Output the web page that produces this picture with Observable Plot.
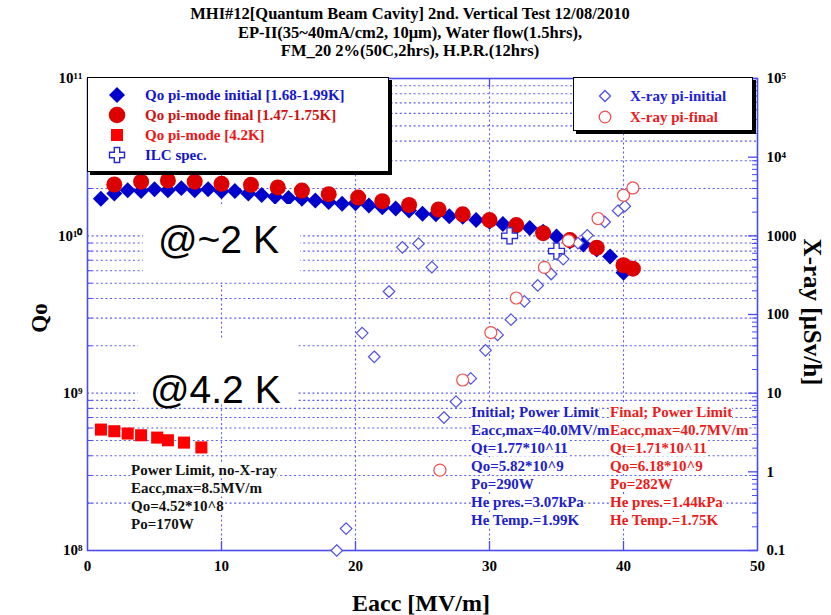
<!DOCTYPE html>
<html><head><meta charset="utf-8">
<script src="https://cdn.jsdelivr.net/npm/d3@7"></script>
<script src="https://cdn.jsdelivr.net/npm/@observablehq/plot@0.6"></script>
<style>
body{margin:0;background:#fff}
#wrap{position:relative;width:831px;height:615px;font-family:"Liberation Serif","Times New Roman",serif;font-weight:bold}
.ov{position:absolute;white-space:nowrap}
.leg{position:absolute;background:#fff;border:1.5px solid #000;box-shadow:3px 3px 0 #000;box-sizing:border-box}
.row{position:absolute;font-size:15px;line-height:18px;height:18px}
.row svg{position:absolute;left:0;top:0;overflow:visible}
.big{position:absolute;font-family:"Liberation Sans",Arial,sans-serif;font-weight:normal;font-size:39px;line-height:39px;background:#fff;color:#000}
.blk{position:absolute;font-size:15px;line-height:18px;white-space:nowrap}
.blk span{background:#fff}
</style></head><body><div id="wrap"></div>
<script>
// ---- data ----
const eaccInitial = [1,2,3,4,5,6,7,8,9,10,11,12,13,14,15,16,17,18,19,20,21,22,23,24,25,26,27,28,29,30,31,32,33,34,35,36,37,38,39,40];
const qoInitial = [1.72e10,1.86e10,1.95e10,1.93e10,1.98e10,1.95e10,2.01e10,1.95e10,1.98e10,1.92e10,1.93e10,1.86e10,1.82e10,1.77e10,1.74e10,1.72e10,1.68e10,1.64e10,1.60e10,1.61e10,1.56e10,1.52e10,1.49e10,1.45e10,1.38e10,1.37e10,1.33e10,1.32e10,1.26e10,1.23e10,1.19e10,1.14e10,1.12e10,1.06e10,9.9e9,9.2e9,8.8e9,8.2e9,7.4e9,5.82e9];
const eaccFinal = [2,4,6,8,10,12.2,14.2,16,18,20.2,22,24,26.2,28,30,32,34,36,38,40,40.7];
const qoFinal = [2.12e10,2.21e10,2.25e10,2.21e10,2.14e10,2.11e10,2.03e10,1.94e10,1.84e10,1.75e10,1.66e10,1.57e10,1.47e10,1.37e10,1.26e10,1.17e10,1.04e10,9.4e9,8.4e9,6.5e9,6.18e9];
const eacc42K = [1,2,3,4,5.2,6,7.2,8.5];
const qo42K = [5.87e8,5.73e8,5.54e8,5.4e8,5.22e8,5.02e8,4.85e8,4.52e8];
const eaccILC = [31.5,35];
const qoILC = [1.0e10,8.0e9];
const eaccXrayInitial = [18.6,19.3,20.5,21.4,22.5,23.5,24.7,25.7,26.6,27.5,28.6,29.7,30.6,31.6,32.6,33.6,34.6,35.5,36.6,37.3,38.6,39.6,40.1];
const xrayInitial = [0.1,0.19,58,29,196,714,794,400,4.9,7.8,15.4,35,55,86,147,234,327,506,810,1014,1500,2090,2380];
const eaccXrayFinal = [26.3,28.0,30.1,32.0,34.1,35.9,38.1,40.0,40.7];
const xrayFinal = [1.05,14.7,59,162,398,868,1660,3280,4060];

const xTicks = [0,10,20,30,40,50];
const xGrid = [10,20,30,40];
const leftTicks = [1e8,1e9,1e10,1e11];
const leftTickLabels = ["10\u2078","10\u2079","10\u00b9\u2070","10\u00b9\u00b9"];
const rightTicks = [0.1,1,10,100,1000,1e4,1e5];
const rightTickLabels = ["0.1","1","10","100","1000","10\u2074","10\u2075"];

// map X-ray [uSv/h] (0.1..1e5) onto Qo log scale (1e8..1e11)
const xq = v => Math.pow(10, 8 + (Math.log10(v) + 1) / 2);
const near = (a, b) => Math.abs(Math.log10(a) - Math.log10(b)) < 1e-6;
const leftFmt = d => leftTickLabels[leftTicks.findIndex(t => near(t, d))];
const rightFmt = d => rightTickLabels[rightTicks.findIndex(t => near(xq(t), d))];

const minorMult = [2,3,4,5,6,7,8,9];
const leftMinor = [], gridQ = [];
for (const d of [1e8,1e9,1e10]) { for (const m of minorMult) { leftMinor.push(d*m); gridQ.push(d*m); } }
gridQ.push(1e9, 1e10);
const rightMinor = [];
for (const d of [0.1,1,10,100,1000,1e4]) for (const m of minorMult) rightMinor.push(xq(d*m));

const W = 831, H = 615, mL = 87, mR = 74, mT = 78, mB = 65;
const fw = W - mL - mR, fh = H - mT - mB;
const axisColor = "#4b4bf5", gridColor = "#5c5cf0";

const zip = (xs, ys) => xs.map((x,i) => ({x, y: ys[i]}));

const chart = Plot.plot({
  width: W, height: H,
  marginLeft: mL, marginRight: mR, marginTop: mT, marginBottom: mB,
  style: {fontFamily: "'Liberation Serif','Times New Roman',serif", fontWeight: "bold", fontSize: "15px", color: "#000", background: "#fff"},
  x: {domain: [0,50]},
  y: {type: "log", domain: [1e8,1e11]},
  marks: [
    Plot.ruleY(gridQ, {y: d => d, stroke: gridColor, strokeDasharray: "2,2.6", strokeWidth: 1.1}),
    Plot.ruleX(xGrid, {x: d => d, stroke: gridColor, strokeDasharray: "2,2.6", strokeWidth: 1.1}),
    Plot.tickX(xGrid, {x: d => d, insetTop: fh - 9, stroke: axisColor, strokeWidth: 1.3}),
    Plot.tickX(xGrid, {x: d => d, insetBottom: fh - 9, stroke: axisColor, strokeWidth: 1.3}),
    Plot.tickY(leftMinor, {y: d => d, insetRight: fw - 5, stroke: axisColor}),
    Plot.tickY(rightTicks.map(xq), {y: d => d, insetLeft: fw - 9, stroke: axisColor, strokeWidth: 1.3}),
    Plot.tickY(rightMinor, {y: d => d, insetLeft: fw - 5, stroke: axisColor}),
    Plot.frame({stroke: axisColor, strokeWidth: 1.6}),
    Plot.axisX({ticks: xTicks, tickSize: 0, tickPadding: 10, tickFormat: d => String(d), label: null}),
    Plot.axisY({anchor: "left", ticks: leftTicks, tickSize: 0, tickPadding: 5, tickFormat: leftFmt, label: null}),
    Plot.axisY({anchor: "right", ticks: rightTicks.map(xq), tickSize: 0, tickPadding: 9, tickFormat: rightFmt, label: null}),
    Plot.dot(zip(eaccInitial, qoInitial), {x: "x", y: "y", symbol: "diamond2", r: 7.2, fill: "#0000cc"}),
    Plot.dot(zip(eaccFinal, qoFinal), {x: "x", y: "y", symbol: "circle", r: 8, fill: "#dd0000"}),
    Plot.dot(zip(eacc42K, qo42K), {x: "x", y: "y", symbol: "square", r: 6.8, fill: "#ff0000"}),
    Plot.dot(zip(eaccILC, qoILC), {x: "x", y: "y", symbol: "cross", r: 6.7, fill: "#fff", stroke: "#2828d8", strokeWidth: 1.3}),
    Plot.dot(zip(eaccXrayInitial, xrayInitial.map(xq)), {x: "x", y: "y", symbol: "diamond2", r: 5.2, fill: "#fff", stroke: "#5050e0", strokeWidth: 1.2}),
    Plot.dot(zip(eaccXrayFinal, xrayFinal.map(xq)), {x: "x", y: "y", symbol: "circle", r: 6, fill: "#fff", stroke: "#ee5050", strokeWidth: 1.2})
  ]
});
const wrap = document.getElementById("wrap");
chart.style.position = "absolute"; chart.style.left = "0"; chart.style.top = "0";
wrap.appendChild(chart);

function add(html) { wrap.insertAdjacentHTML("beforeend", html); }
const lines = arr => arr.map(s => `<span>${s}</span>`).join("<br>");

// title
add(`<div class="ov" style="left:0;top:5px;width:820px;text-align:center;font-size:16.5px;line-height:18.5px">MHI#12[Quantum Beam Cavity] 2nd. Vertical Test 12/08/2010<br>EP-II(35~40mA/cm2, 10\u03bcm), Water flow(1.5hrs),<br>FM_20 2%(50C,2hrs), H.P.R.(12hrs)</div>`);
// axis titles
add(`<div class="ov" style="left:40px;top:318px;transform:translate(-50%,-50%) rotate(-90deg);font-size:23px">Qo</div>`);
add(`<div class="ov" style="left:421px;top:603px;transform:translate(-50%,-50%);font-size:24px">Eacc [MV/m]</div>`);
add(`<div class="ov" style="left:812px;top:312px;transform:translate(-50%,-50%) rotate(90deg);font-size:25px">X-ray [\u03bcSv/h]</div>`);

// legends
const mk = {
  dia: c => `<svg width="18" height="18"><path d="M9,1L17,9L9,17L1,9Z" fill="${c}"/></svg>`,
  cir: c => `<svg width="18" height="18"><circle cx="9" cy="9" r="8.3" fill="${c}"/></svg>`,
  sq: c => `<svg width="18" height="18"><rect x="3" y="3" width="12" height="12" fill="${c}"/></svg>`,
  cross: c => `<svg width="18" height="18"><path d="M6.3,1.5h5.4v4.8h4.8v5.4h-4.8v4.8h-5.4v-4.8h-4.8v-5.4h4.8z" fill="#fff" stroke="${c}" stroke-width="1.4"/></svg>`,
  hdia: c => `<svg width="18" height="18"><path d="M9,3.5L14.5,9L9,14.5L3.5,9Z" fill="#fff" stroke="${c}" stroke-width="1.3"/></svg>`,
  hcir: c => `<svg width="18" height="18"><circle cx="9" cy="9" r="5.8" fill="#fff" stroke="${c}" stroke-width="1.3"/></svg>`
};
const legL = [
  [mk.dia("#0000cc"), "#1515cc", "Qo pi-mode initial [1.68-1.99K]"],
  [mk.cir("#dd0000"), "#d01010", "Qo pi-mode final [1.47-1.75K]"],
  [mk.sq("#ff0000"), "#ee1515", "Qo pi-mode [4.2K]"],
  [mk.cross("#2828d8"), "#1515cc", "ILC spec."]
];
let h = `<div class="leg" style="left:87px;top:77px;width:302px;height:95px">`;
legL.forEach((r,i) => {
  h += `<div class="row" style="left:20px;top:${8 + i*20}px;width:280px"><span style="position:absolute;left:0;top:0">${r[0]}</span><span style="position:absolute;left:37px;top:0;color:${r[1]}">${r[2]}</span></div>`;
});
h += `</div>`;
add(h);
const legR = [
  [mk.hdia("#5050e0"), "#2020dd", "X-ray pi-initial"],
  [mk.hcir("#ee5050"), "#ee1a1a", "X-ray pi-final"]
];
h = `<div class="leg" style="left:573px;top:77px;width:180px;height:54px">`;
legR.forEach((r,i) => {
  h += `<div class="row" style="left:22px;top:${9 + i*21}px;width:150px"><span style="position:absolute;left:0;top:0">${r[0]}</span><span style="position:absolute;left:34px;top:0;color:${r[1]}">${r[2]}</span></div>`;
});
h += `</div>`;
add(h);

// big labels
add(`<div class="big" style="left:143px;top:204px;width:157px;height:78px"><span style="position:absolute;left:15px;top:16px">@~2 K</span></div>`);
add(`<div class="big" style="left:138px;top:340px;width:160px;height:62px"><span style="position:absolute;left:12px;top:30px">@4.2 K</span></div>`);

// annotation blocks
add(`<div class="blk" style="left:131px;top:461px;color:#111">${lines(["Power Limit, no-X-ray","Eacc,max=8.5MV/m","Qo=4.52*10^8","Po=170W"])}</div>`);
add(`<div class="blk" style="left:471px;top:403px;color:#2020cc">${lines(["Initial; Power Limit","Eacc,max=40.0MV/m","Qt=1.77*10^11","Qo=5.82*10^9","Po=290W","He pres.=3.07kPa","He Temp.=1.99K"])}</div>`);
add(`<div class="blk" style="left:610px;top:403px;color:#ee1a1a">${lines(["Final; Power Limit","Eacc,max=40.7MV/m","Qt=1.71*10^11","Qo=6.18*10^9","Po=282W","He pres.=1.44kPa","He Temp.=1.75K"])}</div>`);
</script></body></html>
